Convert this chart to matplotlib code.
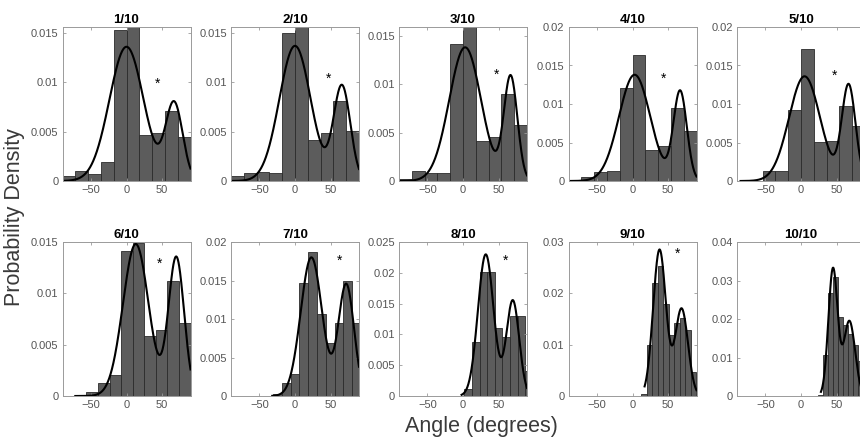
import numpy as np
import matplotlib.pyplot as plt
from matplotlib.ticker import FuncFormatter

plt.rcParams['font.family'] = ['Liberation Sans', 'DejaVu Sans']

# one panel per tenth of the sequence
titles = ['1/10', '2/10', '3/10', '4/10', '5/10',
          '6/10', '7/10', '8/10', '9/10', '10/10']

# histogram bins (degrees): first edge and width, then probability density per bin
bin_starts = [-90, -90, -90, -90, -90, -56.5, -31.0, 1.9, 12.6, 24.5]
bin_widths = [18, 18, 18, 18, 18, 16.3, 12.4, 10.7, 7.7, 7.0]
densities = [
    [0.00047, 0.00098, 0.0007, 0.0019, 0.0153, 0.0156, 0.00463, 0.00483, 0.00706, 0.0045],
    [0.0005, 0.00084, 0.0009, 0.00084, 0.0150, 0.0156, 0.0042, 0.00487, 0.0081, 0.0051],
    [0.00024, 0.001, 0.00078, 0.00085, 0.01414, 0.0159, 0.00417, 0.00458, 0.00898, 0.00583],
    [0.0001, 0.00056, 0.00112, 0.00134, 0.0121, 0.0163, 0.0040, 0.0046, 0.0095, 0.0065],
    [0.0, 0.0, 0.00134, 0.00134, 0.0092, 0.0171, 0.0051, 0.0052, 0.0097, 0.0071],
    [0.0004, 0.0013, 0.00205, 0.01415, 0.0149, 0.00586, 0.00638, 0.0112, 0.0071],
    [0.0003, 0.00165, 0.00286, 0.01463, 0.01874, 0.01065, 0.00693, 0.00952, 0.0150, 0.0095],
    [0.0012, 0.0088, 0.0202, 0.0202, 0.0111, 0.0095, 0.013, 0.013, 0.0041],
    [0.0003, 0.00995, 0.0221, 0.0254, 0.0179, 0.0119, 0.0143, 0.0152, 0.0128, 0.0047],
    [0.0003, 0.0107, 0.0268, 0.031, 0.0204, 0.0184, 0.0162, 0.0132, 0.009, 0.004],
]

# two-component Gaussian mixture fitted to each panel
mix_weights = [(0.818, 0.235), (0.755, 0.284), (0.775, 0.255), (0.761, 0.273), (0.743, 0.298),
               (0.668, 0.372), (0.677, 0.400), (0.634, 0.350), (0.643, 0.384), (0.538, 0.391)]
mix_means = [(0, 67), (0, 66), (3, 67), (3, 67), (5, 67),
             (13, 70), (23, 72), (32, 70), (38, 69), (45, 68)]
mix_sds = [(24, 12), (22, 11.8), (22.4, 9.5), (22, 9.4), (21.8, 9.6),
           (18, 11), (15, 11), (11, 9), (9, 9), (6.5, 8)]
curve_starts = [-90, -90, -90, -90, -85, -72, -32, -2, 17, 28]

# significance markers
star_x = [44, 47, 47, 43, 47, 46, 62, 60, 63, None]
star_y = [0.0098, 0.0104, 0.011, 0.0133, 0.0136, 0.0129, 0.0176, 0.022, 0.0277, None]

y_tops = [0.0156, 0.0156, 0.0159, 0.02, 0.02, 0.015, 0.02, 0.025, 0.03, 0.04]
y_ticks = [[0, 0.005, 0.01, 0.015]] * 3 + [[0, 0.005, 0.01, 0.015, 0.02]] * 2 + [
    [0, 0.005, 0.01, 0.015], [0, 0.005, 0.01, 0.015, 0.02],
    [0, 0.005, 0.01, 0.015, 0.02, 0.025], [0, 0.01, 0.02, 0.03], [0, 0.01, 0.02, 0.03, 0.04]]

fig = plt.figure(figsize=(8.6, 4.4), dpi=100)
W, H = 860.0, 440.0
lefts = [62.5, 231, 399, 568.5, 737]
row_top = [27, 242]
ax_w, ax_h = 128, 154

fmt = FuncFormatter(lambda v, p: '%g' % v)

for i in range(10):
    r, c = divmod(i, 5)
    ax = fig.add_axes([lefts[c] / W, 1 - (row_top[r] + ax_h) / H, ax_w / W, ax_h / H])
    edges = bin_starts[i] + bin_widths[i] * np.arange(len(densities[i]))
    ax.bar(edges, densities[i], width=bin_widths[i], align='edge',
           color='#5c5c5c', edgecolor='#2b2b2b', linewidth=0.6)
    x = np.linspace(curve_starts[i], 90, 500)
    y = np.zeros_like(x)
    for w, mu, sd in zip(mix_weights[i], mix_means[i], mix_sds[i]):
        y += w * np.exp(-0.5 * ((x - mu) / sd) ** 2) / (sd * np.sqrt(2 * np.pi))
    ax.plot(x, y, color='black', linewidth=1.5)
    if star_x[i] is not None:
        ax.text(star_x[i], star_y[i], '*', ha='center', va='center', fontsize=10)
    ax.set_xlim(-90, 90)
    ax.set_ylim(0, y_tops[i])
    ax.set_xticks([-50, 0, 50])
    ax.set_yticks(y_ticks[i])
    ax.yaxis.set_major_formatter(fmt)
    ax.tick_params(direction='in', top=True, right=True, length=2.5, width=0.6,
                   color='#9a9a9a', labelcolor='#555555', labelsize=8, pad=3)
    for s in ax.spines.values():
        s.set_color('#9a9a9a')
        s.set_linewidth(0.7)
    ax.set_title(titles[i], fontsize=9.5, fontweight='bold', pad=3)

fig.text(15 / W, 1 - 217 / H, 'Probability Density', rotation=90, ha='center', va='center',
         fontsize=15.5, color='#3a3a3a')
fig.text(481 / W, 1 - 432 / H, 'Angle (degrees)', ha='center', va='baseline',
         fontsize=15.5, color='#3a3a3a')

fig.savefig('out.png', dpi=100)
